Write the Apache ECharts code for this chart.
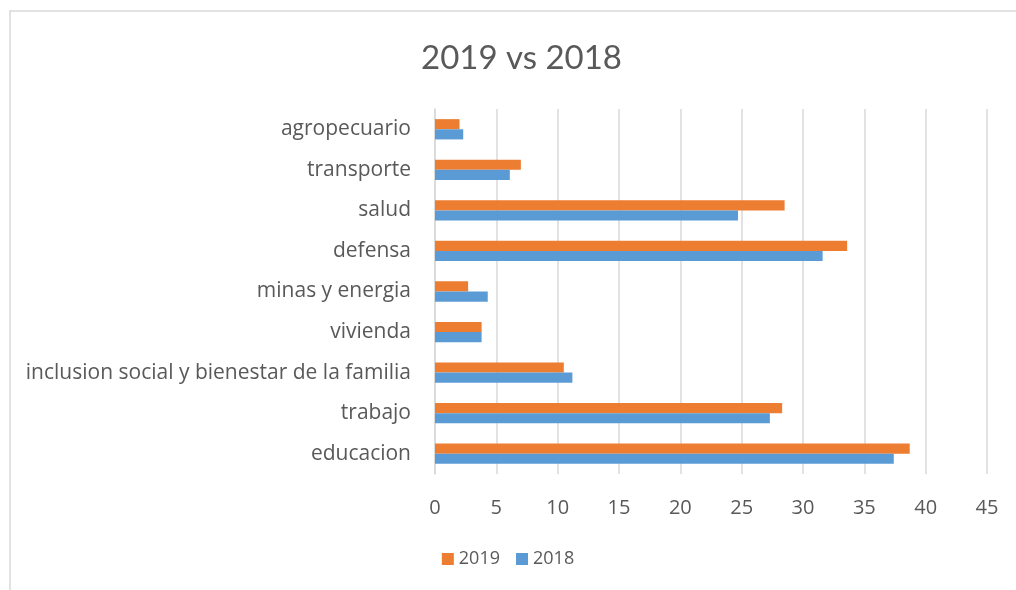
<!DOCTYPE html>
<html>
<head>
<meta charset="utf-8">
<script src="https://cdn.jsdelivr.net/npm/echarts@6/dist/echarts.min.js"></script>
<style>
  html, body { margin: 0; padding: 0; background: #fff; }
  #chart { width: 1016px; height: 590px; }
</style>
</head>
<body>
<div id="chart"></div>
<script>
// Sectors, bottom to top
const categories = [
  'educacion',
  'trabajo',
  'inclusion social y bienestar de la familia',
  'vivienda',
  'minas y energia',
  'defensa',
  'salud',
  'transporte',
  'agropecuario'
];
const values2019 = [38.7, 28.3, 10.5, 3.8, 2.7, 33.6, 28.5, 7.0, 2.0];
const values2018 = [37.4, 27.3, 11.2, 3.8, 4.3, 31.6, 24.7, 6.1, 2.3];
const xTicks = { min: 0, max: 45, interval: 5 };

const FONT = '"Open Sans", "Noto Sans", sans-serif';
const TITLE_FONT = 'Lato, "Open Sans", sans-serif';
const TEXT = '#595959';

const chart = echarts.init(document.getElementById('chart'), null, { renderer: 'canvas' });
chart.setOption({
  animation: false,
  backgroundColor: '#ffffff',
  textStyle: { fontFamily: FONT },
  title: {
    text: '2019 vs 2018',
    left: 416,
    top: 37,
    textStyle: { fontFamily: TITLE_FONT, fontSize: 33, fontWeight: 'normal', color: TEXT }
  },
  graphic: [{
    type: 'rect',
    shape: { x: 10, y: 11, width: 1020, height: 600 },
    style: { fill: 'none', stroke: '#d9d9d9', lineWidth: 1.5 },
    silent: true
  }],
  legend: {
    data: ['2019', '2018'],
    left: 'center',
    top: 545,
    icon: 'rect',
    itemWidth: 12,
    itemHeight: 12,
    itemGap: 16,
    textStyle: { fontFamily: FONT, fontSize: 18, color: TEXT }
  },
  grid: { left: 435, right: 29, top: 109, bottom: 116, containLabel: false },
  xAxis: {
    type: 'value',
    min: xTicks.min,
    max: xTicks.max,
    interval: xTicks.interval,
    axisLine: { show: false },
    axisTick: { show: false },
    axisLabel: { fontFamily: FONT, fontSize: 20, color: TEXT, margin: 24 },
    splitLine: { show: true, lineStyle: { color: '#d9d9d9', width: 1.5 } }
  },
  yAxis: {
    type: 'category',
    data: categories,
    axisLine: { show: true, lineStyle: { color: '#d9d9d9', width: 1.5 } },
    axisTick: { show: false },
    axisLabel: { fontFamily: FONT, fontSize: 21, color: TEXT, margin: 24 }
  },
  series: [
    {
      name: '2019',
      type: 'bar',
      data: values2019,
      barGap: '0%',
      barCategoryGap: '50%',
      itemStyle: { color: '#ED7D31' }
    },
    {
      name: '2018',
      type: 'bar',
      data: values2018,
      barGap: '0%',
      barCategoryGap: '50%',
      itemStyle: { color: '#5B9BD5' }
    }
  ]
});
</script>
</body>
</html>
